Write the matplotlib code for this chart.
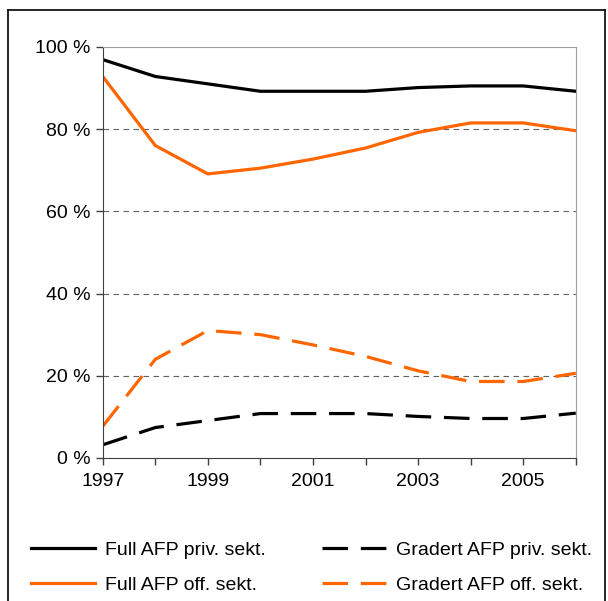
import matplotlib
matplotlib.use('Agg')
import matplotlib.pyplot as plt
from matplotlib.lines import Line2D

plt.rcParams['font.family'] = ['Liberation Sans', 'DejaVu Sans']

years = [1997, 1998, 1999, 2000, 2001, 2002, 2003, 2004, 2005, 2006]
full_priv = [96.9, 92.8, 91.0, 89.2, 89.2, 89.2, 90.1, 90.5, 90.5, 89.2]
full_off = [92.8, 76.0, 69.1, 70.5, 72.7, 75.4, 79.2, 81.5, 81.5, 79.6]
grad_priv = [3.2, 7.4, 9.1, 10.8, 10.8, 10.8, 10.1, 9.6, 9.6, 10.9]
grad_off = [7.7, 24.0, 31.0, 30.0, 27.5, 24.7, 21.2, 18.6, 18.6, 20.6]

labels = ['Full AFP priv. sekt.', 'Full AFP off. sekt.',
          'Gradert AFP priv. sekt.', 'Gradert AFP off. sekt.']
ytick_vals = [0, 20, 40, 60, 80, 100]
xtick_labels = [1997, 1999, 2001, 2003, 2005]

orange = '#ff6600'
dash = (0, (8, 4))

fig = plt.figure(figsize=(6.08, 6.01), dpi=100)
ax = fig.add_axes([0.169, 0.238, 0.778, 0.684])

ax.plot(years, full_priv, color='black', lw=2.3)
ax.plot(years, full_off, color=orange, lw=2.3)
ax.plot(years, grad_priv, color='black', lw=2.3, linestyle=dash)
ax.plot(years, grad_off, color=orange, lw=2.3, linestyle=dash)

ax.set_xlim(1997, 2006)
ax.set_ylim(0, 100)
ax.set_yticks(ytick_vals)
ax.set_yticklabels([f'{v} %' for v in ytick_vals])
ax.set_xticks(years, minor=True)
ax.set_xticks(xtick_labels)
ax.set_xticklabels([str(y) for y in xtick_labels])
ax.tick_params(axis='both', which='both', direction='out', length=5,
               width=1, color='#404040', labelsize=14)
ax.tick_params(axis='y', pad=4)
ax.tick_params(axis='x', pad=6)

for v in ytick_vals[1:-1]:
    ax.axhline(v, color='#606060', lw=0.8, linestyle=(0, (5, 4)), zorder=0)

ax.spines['left'].set_color('#404040')
ax.spines['bottom'].set_color('#404040')
ax.spines['top'].set_color('#a0a0a0')
ax.spines['right'].set_color('#a0a0a0')

handles = [
    Line2D([], [], color='black', lw=2.3),
    Line2D([], [], color=orange, lw=2.3),
    Line2D([], [], color='black', lw=2.3, linestyle=dash),
    Line2D([], [], color=orange, lw=2.3, linestyle=dash),
]
fig.legend(handles, labels, ncol=2, frameon=False, fontsize=14,
           loc='upper left', bbox_to_anchor=(0.0515, 0.100),
           handlelength=3.3, handletextpad=0.5, columnspacing=2.9,
           labelspacing=0.9, borderaxespad=0, borderpad=0)

# outer chart frame
fig.add_artist(Line2D([0.013, 0.013], [0.0, 0.983], color='black', lw=1.2,
                      transform=fig.transFigure))
fig.add_artist(Line2D([0.013, 0.995], [0.983, 0.983], color='black', lw=1.2,
                      transform=fig.transFigure))
fig.add_artist(Line2D([0.995, 0.995], [0.0, 0.983], color='black', lw=1.2,
                      transform=fig.transFigure))

fig.savefig('out.png', dpi=100)
